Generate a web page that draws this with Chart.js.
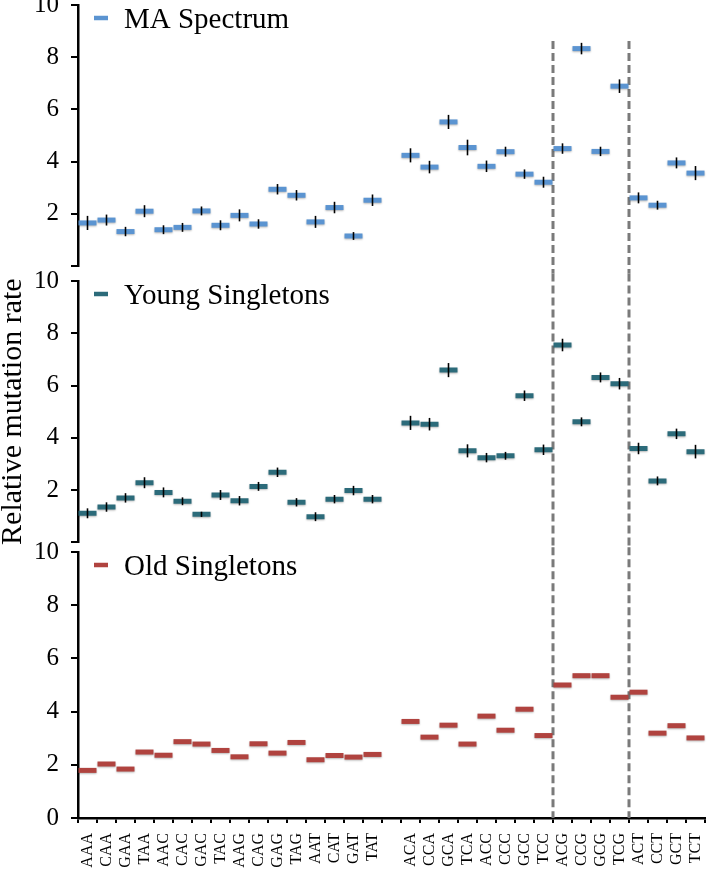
<!DOCTYPE html>
<html lang="en">
<head>
    <meta charset="UTF-8">
    <title>Relative mutation rate</title>
    <script src="https://cdn.jsdelivr.net/npm/chart.js"></script>
    <style>
        html, body { margin: 0; padding: 0; background: #fff; }
        #wrap { position: relative; width: 719px; height: 871px; overflow: hidden; }
        #wrap canvas { position: absolute; left: 0; }
    </style>
</head>
<body>
<div id="wrap">
    <canvas id="maChart" width="719" height="310" style="top:-20px"></canvas>
    <canvas id="youngChart" width="719" height="310" style="top:256px"></canvas>
    <canvas id="oldChart" width="719" height="344" style="top:527px"></canvas>
</div>

<script>
    // trinucleotide contexts, two groups of 16 with an empty slot between them
    const contextsA = ['AAA','CAA','GAA','TAA','AAC','CAC','GAC','TAC','AAG','CAG','GAG','TAG','AAT','CAT','GAT','TAT'];
    const contextsB = ['ACA','CCA','GCA','TCA','ACC','CCC','GCC','TCC','ACG','CCG','GCG','TCG','ACT','CCT','GCT','TCT'];
    const dividersAfter = ['TCC', 'TCG'];
    const yTicks = [0, 2, 4, 6, 8, 10];

    const maValues = [1.65, 1.76, 1.32, 2.10, 1.39, 1.48, 2.11, 1.56, 1.94, 1.61, 2.94, 2.71, 1.69, 2.24, 1.15, 2.52,
                      4.24, 3.79, 5.52, 4.54, 3.82, 4.38, 3.52, 3.21, 4.50, 8.33, 4.39, 6.89, 2.61, 2.33, 3.95, 3.56];
    const maErrors = [0.27, 0.21, 0.18, 0.23, 0.17, 0.17, 0.17, 0.19, 0.23, 0.18, 0.20, 0.20, 0.23, 0.22, 0.15, 0.22,
                      0.27, 0.24, 0.27, 0.30, 0.22, 0.19, 0.18, 0.21, 0.20, 0.22, 0.18, 0.26, 0.21, 0.17, 0.21, 0.27];

    const youngValues = [1.11, 1.35, 1.70, 2.28, 1.91, 1.57, 1.07, 1.81, 1.59, 2.14, 2.68, 1.53, 0.98, 1.65, 1.98, 1.65,
                         4.57, 4.52, 6.59, 3.50, 3.24, 3.31, 5.61, 3.54, 7.55, 4.61, 6.31, 6.07, 3.59, 2.35, 4.15, 3.47];
    const youngErrors = [0.19, 0.18, 0.18, 0.21, 0.19, 0.15, 0.10, 0.19, 0.18, 0.17, 0.18, 0.16, 0.17, 0.16, 0.18, 0.16,
                         0.27, 0.24, 0.27, 0.25, 0.18, 0.15, 0.20, 0.20, 0.24, 0.17, 0.19, 0.22, 0.22, 0.17, 0.20, 0.26];

    const oldValues = [1.79, 2.03, 1.84, 2.48, 2.36, 2.87, 2.78, 2.54, 2.30, 2.79, 2.44, 2.84, 2.19, 2.35, 2.29, 2.39,
                       3.63, 3.04, 3.49, 2.78, 3.83, 3.30, 4.09, 3.10, 5.00, 5.35, 5.35, 4.54, 4.73, 3.19, 3.47, 3.01];

    const serif = '"Liberation Serif", "Times New Roman", serif';

    // put the blank slot between the two groups
    const withGap = arr => arr ? [...arr.slice(0, 16), null, ...arr.slice(16)] : null;
    const labels = [...contextsA, '', ...contextsB];

    // black vertical error bars
    const errorBars = {
        id: 'errorBars',
        afterDatasetsDraw(chart, args, opts) {
            if (!opts.values) return;
            const { ctx } = chart;
            const x = chart.scales.x, y = chart.scales.y;
            const data = chart.data.datasets[0].data;
            ctx.save();
            ctx.strokeStyle = '#000';
            ctx.lineWidth = 1.6;
            opts.values.forEach((e, i) => {
                const v = data[i];
                if (v == null || e == null) return;
                const px = x.getPixelForValue(i);
                ctx.beginPath();
                ctx.moveTo(px, y.getPixelForValue(v - e));
                ctx.lineTo(px, y.getPixelForValue(v + e));
                ctx.stroke();
            });
            ctx.restore();
        }
    };

    // grey dashed separators between categories
    const dividers = {
        id: 'dividers',
        beforeDatasetsDraw(chart, args, opts) {
            const { ctx, chartArea } = chart;
            const x = chart.scales.x;
            ctx.save();
            ctx.strokeStyle = '#7a7a7a';
            ctx.lineWidth = 3;
            ctx.setLineDash([8, 4]);
            dividersAfter.forEach(name => {
                const i = chart.data.labels.indexOf(name);
                const px = (x.getPixelForValue(i) + x.getPixelForValue(i + 1)) / 2;
                ctx.beginPath();
                ctx.moveTo(px, chartArea.top + opts.top);
                ctx.lineTo(px, chartArea.bottom + opts.bottom);
                ctx.stroke();
            });
            ctx.restore();
        }
    };

    // small shadow under the markers
    const markerShadow = {
        id: 'markerShadow',
        beforeDatasetsDraw(chart) {
            const ctx = chart.ctx;
            ctx.save();
            ctx.shadowColor = 'rgba(0,0,0,0.28)';
            ctx.shadowBlur = 2;
            ctx.shadowOffsetY = 1;
        },
        afterDatasetsDraw(chart) {
            chart.ctx.restore();
        }
    };

    // legend entry in the top left corner of each panel
    const panelLegend = {
        id: 'panelLegend',
        afterDraw(chart) {
            const { ctx, chartArea } = chart;
            const ds = chart.data.datasets[0];
            ctx.save();
            ctx.strokeStyle = ds.borderColor;
            ctx.lineWidth = 4.5;
            ctx.beginPath();
            ctx.moveTo(chartArea.left + 16, chartArea.top + 13);
            ctx.lineTo(chartArea.left + 30, chartArea.top + 13);
            ctx.stroke();
            ctx.fillStyle = '#000';
            ctx.font = '29px ' + serif;
            ctx.textBaseline = 'alphabetic';
            ctx.fillText(ds.label, chartArea.left + 46, chartArea.top + 23);
            ctx.restore();
        }
    };

    function makePanel(id, cfg) {
        return new Chart(document.getElementById(id), {
            type: 'line',
            data: {
                labels: labels,
                datasets: [{
                    label: cfg.label,
                    data: withGap(cfg.values),
                    borderColor: cfg.color,
                    backgroundColor: cfg.color,
                    showLine: false,
                    pointStyle: 'line',
                    pointRadius: 9,
                    pointHoverRadius: 9,
                    pointBorderWidth: 5,
                    pointHoverBorderWidth: 5
                }]
            },
            options: {
                responsive: false,
                animation: false,
                events: [],
                layout: { padding: { top: 25, right: 6, bottom: cfg.padBottom, left: 0 } },
                plugins: {
                    legend: { display: false },
                    tooltip: { enabled: false },
                    errorBars: { values: withGap(cfg.errors) },
                    dividers: cfg.dividers
                },
                scales: {
                    x: {
                        display: cfg.showX,
                        offset: true,
                        afterFit: s => {
                            s.height = cfg.showX ? 53 : 0;
                            s.paddingLeft = 0;
                            s.paddingRight = 0;
                        },
                        border: { color: '#000', width: 2.5 },
                        grid: { offset: true, drawOnChartArea: false, tickLength: 5, color: '#000', lineWidth: 2 },
                        ticks: {
                            autoSkip: false, minRotation: 90, maxRotation: 90, padding: 10,
                            color: '#000', font: { family: serif, size: 16 }
                        }
                    },
                    y: {
                        min: 0,
                        max: 10,
                        afterFit: s => { s.width = 78; s.paddingTop = 0; s.paddingBottom = 0; },
                        afterBuildTicks: s => { s.ticks = yTicks.map(v => ({ value: v })); },
                        border: { color: '#000', width: 2.5 },
                        grid: { drawOnChartArea: false, tickLength: 7, color: '#000', lineWidth: 2 },
                        ticks: {
                            padding: 12,
                            color: '#000',
                            font: { family: serif, size: 25 },
                            callback: v => (v === 0 && !cfg.showZero) ? '' : v
                        },
                        title: {
                            display: cfg.showTitle,
                            text: 'Relative mutation rate',
                            color: '#000',
                            font: { family: serif, size: 30, lineHeight: 0.86 },
                            padding: 0
                        }
                    }
                }
            },
            plugins: [dividers, markerShadow, errorBars, panelLegend]
        });
    }

    makePanel('maChart', {
        label: 'MA Spectrum', values: maValues, errors: maErrors, color: '#5b94d1',
        padBottom: 24, showX: false, showZero: false, showTitle: false,
        dividers: { top: 36, bottom: 7.5 }
    });
    makePanel('youngChart', {
        label: 'Young Singletons', values: youngValues, errors: youngErrors, color: '#2c6b7a',
        padBottom: 23.7, showX: false, showZero: false, showTitle: true,
        dividers: { top: -7.5, bottom: 4.7 }
    });
    makePanel('oldChart', {
        label: 'Old Singletons', values: oldValues, errors: null, color: '#b0433f',
        padBottom: 0, showX: true, showZero: true, showTitle: false,
        dividers: { top: -4.7, bottom: 0 }
    });
</script>
</body>
</html>
